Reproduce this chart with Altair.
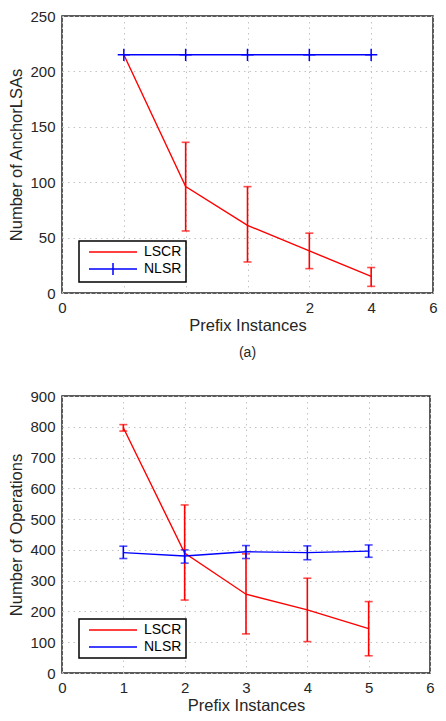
import altair as alt
import pandas as pd

FONT = "Liberation Sans"
INK = "#262626"
GRID = "#c4c4c4"
RED = "#ff0000"
BLUE = "#0000ff"

series_names = ["LSCR", "NLSR"]
series_colors = [RED, BLUE]
x_instances = [1, 2, 3, 4, 5]

# ---- panel (a) ----
a_lscr = [215, 96, 61, 38, 15]
a_lscr_low = [None, 56, 28, 22, 6]
a_lscr_high = [None, 136, 96, 54, 23]
a_nlsr = [215, 215, 215, 215, 215]
a_xticks = [0, 1, 2, 3, 4, 5, 6]
a_xtick_labels = ["0", "", "", "", "2", "4", "6"]
a_yticks = [0, 50, 100, 150, 200, 250]
a_ytitle = "Number of AnchorLSAs"
a_caption = "(a)"

# ---- panel (b) ----
b_lscr = [797, 390, 256, 205, 144]
b_lscr_low = [786, 237, 127, 102, 56]
b_lscr_high = [807, 546, 387, 308, 232]
b_nlsr = [391, 380, 394, 391, 396]
b_nlsr_low = [372, 357, 372, 368, 376]
b_nlsr_high = [412, 400, 414, 413, 416]
b_xticks = [0, 1, 2, 3, 4, 5, 6]
b_yticks = [0, 100, 200, 300, 400, 500, 600, 700, 800, 900]
b_ytitle = "Number of Operations"

x_title = "Prefix Instances"

# legend symbol paths (unit coords; line sample drawn to the right of the symbol slot)
LINE_PATH = "M-1,0H7"
LINE_CROSS_PATH = "M-1,0H7M3,-1V1"
CROSS_PATH = "M-1,0H1M0,-1V1"


def long_df(xs, ys_by_series):
    rows = []
    for name, ys in ys_by_series:
        for x, y in zip(xs, ys):
            rows.append({"x": x, "series": name, "y": y})
    return pd.DataFrame(rows)


def err_df(xs, items):
    rows = []
    for name, lo, hi in items:
        for x, l, h in zip(xs, lo, hi):
            if l is None or h is None:
                continue
            rows.append({"x": x, "series": name, "lo": l, "hi": h})
    return pd.DataFrame(rows)


def x_axis(values, label_expr=None):
    kw = dict(
        values=values, title=x_title, grid=True, gridColor=GRID, gridDash=[1.5, 4],
        gridWidth=1, ticks=False, tickSize=0, domain=False,
        labelFont=FONT, labelFontSize=15, labelColor=INK, labelPadding=7,
        titleFont=FONT, titleFontSize=16.5, titleFontWeight="normal", titleColor=INK,
        titlePadding=2, labelFlush=False,
    )
    if label_expr:
        kw["labelExpr"] = label_expr
    return alt.Axis(**kw)


def y_axis(values, title):
    return alt.Axis(
        values=values, title=title, grid=True, gridColor=GRID, gridDash=[1.5, 4],
        gridWidth=1, ticks=False, tickSize=0, domain=False,
        labelFont=FONT, labelFontSize=15, labelColor=INK, labelPadding=7,
        titleFont=FONT, titleFontSize=16.5, titleFontWeight="normal", titleColor=INK,
        titlePadding=5, labelFlush=False,
    )


def legend(sym, lx, ly, row_pad):
    return alt.Legend(
        title=None, orient="none", legendX=lx, legendY=ly,
        fillColor="white", strokeColor="black", padding=4,
        labelFont=FONT, labelFontSize=14, labelColor="black",
        symbolType=sym, symbolSize=144, symbolStrokeWidth=1.5,
        labelOffset=42, rowPadding=row_pad, symbolOffset=5,
    )


color_scale = alt.Scale(domain=series_names, range=series_colors)


def panel(df, edf, xdomain, xaxis, ydomain, yaxis, sym, lx, ly, row_pad, width, height, cross_points):
    X = alt.X("x:Q", scale=alt.Scale(domain=xdomain, nice=False), axis=xaxis)
    Y = alt.Y("y:Q", scale=alt.Scale(domain=ydomain, nice=False), axis=yaxis)
    lines = alt.Chart(df).mark_line(strokeWidth=1.4).encode(
        x=X, y=Y,
        color=alt.Color("series:N", scale=color_scale, legend=legend(sym, lx, ly, row_pad)),
    )
    errs = alt.Chart(edf).mark_errorbar(ticks={"size": 8}, thickness=1.6).encode(
        x=alt.X("x:Q", scale=alt.Scale(domain=xdomain, nice=False), axis=xaxis),
        y=alt.Y("lo:Q", scale=alt.Scale(domain=ydomain, nice=False), axis=yaxis),
        y2="hi:Q",
        color=alt.Color("series:N", scale=color_scale, legend=None),
    )
    layers = [lines, errs]
    if cross_points is not None:
        pts = alt.Chart(df).transform_filter(
            alt.datum.series == cross_points
        ).mark_point(shape=CROSS_PATH, size=150, filled=False, strokeWidth=1.5, opacity=1).encode(
            x=X, y=Y,
            color=alt.Color("series:N", scale=color_scale, legend=None),
        )
        layers.append(pts)
    return alt.layer(*layers).properties(width=width, height=height)


top_df = long_df(x_instances, [("LSCR", a_lscr), ("NLSR", a_nlsr)])
top_err = err_df(x_instances, [("LSCR", a_lscr_low, a_lscr_high)])
bot_df = long_df(x_instances, [("LSCR", b_lscr), ("NLSR", b_nlsr)])
bot_err = err_df(x_instances, [("LSCR", b_lscr_low, b_lscr_high),
                               ("NLSR", b_nlsr_low, b_nlsr_high)])

label_expr_a = "[" + ",".join("'" + s + "'" for s in a_xtick_labels) + "][datum.value]"

top_sym = alt.ExprRef(expr="datum.value == 'NLSR' ? '" + LINE_CROSS_PATH + "' : '" + LINE_PATH + "'")

top = panel(top_df, top_err, [0, 6], x_axis(a_xticks, label_expr_a), [0, 250],
            y_axis(a_yticks, a_ytitle), top_sym, 17, 225, 1, 371, 277, "NLSR").properties(
    title=alt.TitleParams(text=a_caption, orient="bottom", anchor="middle", frame="group",
                          fontSize=14, fontWeight="normal", font=FONT, color=INK, offset=12)
)
bottom = panel(bot_df, bot_err, [0, 6], x_axis(b_xticks), [0, 900],
               y_axis(b_yticks, b_ytitle), LINE_PATH, 17, 223, 3, 368, 277, None)

chart = alt.vconcat(top, bottom, spacing=27).resolve_scale(
    color="independent"
).resolve_legend(color="independent").properties(
    padding={"left": 0, "top": 0, "right": 0, "bottom": 0}
).configure_view(stroke=INK, strokeWidth=1.5).configure_legend(strokeWidth=1.5)

chart.save("out.html", embed_options={"renderer": "svg", "actions": False})
